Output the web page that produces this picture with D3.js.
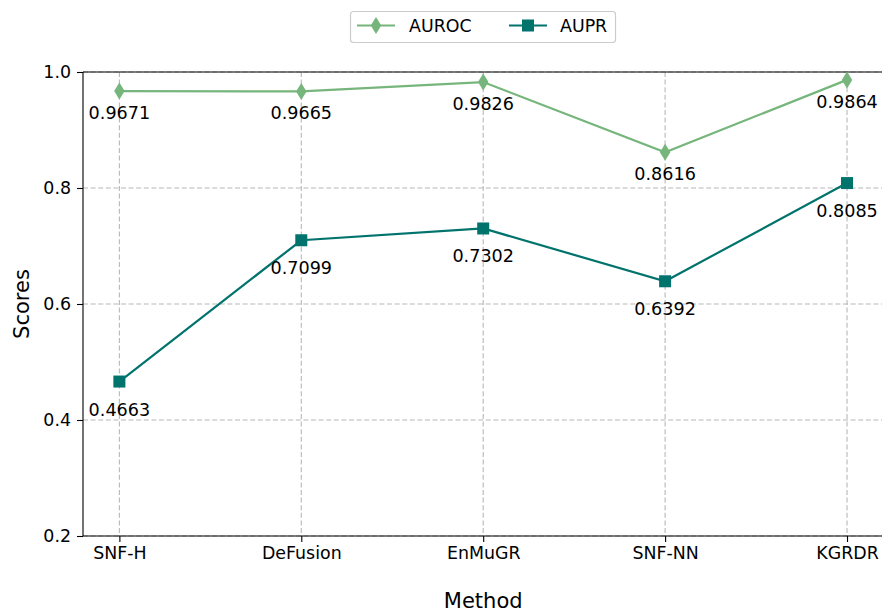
<!DOCTYPE html>
<html>
<head>
<meta charset="utf-8">
<script src="https://cdn.jsdelivr.net/npm/d3@7"></script>
<style>
  html, body { margin: 0; padding: 0; background: #ffffff; }
  svg { display: block; font-family: "DejaVu Sans", sans-serif; }
</style>
</head>
<body>
<svg id="chart" width="882" height="613"></svg>
<script>
// Methods compared and their scores
const methods = ["SNF-H", "DeFusion", "EnMuGR", "SNF-NN", "KGRDR"];
const auroc = [0.9671, 0.9665, 0.9826, 0.8616, 0.9864];
const aupr = [0.4663, 0.7099, 0.7302, 0.6392, 0.8085];
const yTicks = [0.2, 0.4, 0.6, 0.8, 1.0];
const seriesNames = ["AUROC", "AUPR"];
const seriesColors = ["#76b57b", "#00736d"];

const svg = d3.select("#chart");
const plotL = 83, plotR = 883.4, plotT = 72, plotB = 536;

const x = d3.scaleLinear().domain([-0.2, methods.length - 1 + 0.2]).range([plotL, plotR]);
const y = d3.scaleLinear().domain([0.2, 1.0]).range([plotB, plotT]);

// grid
const grid = svg.append("g").attr("stroke", "#b8b8b8").attr("stroke-width", 1.1)
  .attr("stroke-dasharray", "5,2.6");
methods.forEach((m, i) => {
  grid.append("line").attr("x1", x(i)).attr("x2", x(i)).attr("y1", plotT).attr("y2", plotB);
});
yTicks.forEach(t => {
  grid.append("line").attr("x1", plotL).attr("x2", plotR).attr("y1", y(t)).attr("y2", y(t));
});

// axes
const xAxis = d3.axisBottom(x).tickValues(d3.range(methods.length))
  .tickFormat(i => methods[i]).tickSize(6).tickPadding(5);
const yAxis = d3.axisLeft(y).tickValues(yTicks).tickFormat(d3.format(".1f"))
  .tickSize(6).tickPadding(6);

const gx = svg.append("g").attr("transform", `translate(0,${plotB})`).call(xAxis);
const gy = svg.append("g").attr("transform", `translate(${plotL},0)`).call(yAxis);
[gx, gy].forEach(g => {
  g.select(".domain").remove();
  g.selectAll("line").attr("stroke", "#000").attr("stroke-width", 1.1);
  g.selectAll("text").attr("font-size", 17.4).attr("fill", "#000")
    .attr("font-family", "DejaVu Sans, sans-serif");
});

// spines
const spines = svg.append("g").attr("stroke", "#000").attr("stroke-width", 1.1).attr("fill", "none");
spines.append("line").attr("x1", plotL).attr("x2", plotL).attr("y1", plotT).attr("y2", plotB);
spines.append("line").attr("x1", plotL).attr("x2", plotR).attr("y1", plotT).attr("y2", plotT);
spines.append("line").attr("x1", plotL).attr("x2", plotR).attr("y1", plotB).attr("y2", plotB);
spines.append("line").attr("x1", plotR).attr("x2", plotR).attr("y1", plotT).attr("y2", plotB);

// axis titles
svg.append("text").attr("x", (plotL + plotR) / 2).attr("y", 608).attr("text-anchor", "middle")
  .attr("font-size", 21).text("Method");
svg.append("text").attr("transform", `translate(28.5,${(plotT + plotB) / 2}) rotate(-90)`)
  .attr("text-anchor", "middle").attr("font-size", 21).text("Scores");

const diamond = (cx, cy, w, h) => `M${cx},${cy - h / 2}L${cx + w / 2},${cy}L${cx},${cy + h / 2}L${cx - w / 2},${cy}Z`;

// each series: connecting line, markers, and value labels under the markers
function drawSeries(vals, color, marker, labelOffset) {
  const line = d3.line().x((d, i) => x(i)).y(d => y(d));
  svg.append("path").datum(vals).attr("d", line).attr("fill", "none")
    .attr("stroke", color).attr("stroke-width", 2.2);
  const g = svg.append("g");
  vals.forEach((v, i) => {
    if (marker === "d") {
      g.append("path").attr("d", diamond(x(i), y(v), 10.5, 17)).attr("fill", color);
    } else {
      g.append("rect").attr("x", x(i) - 6).attr("y", y(v) - 6).attr("width", 12).attr("height", 12)
        .attr("fill", color);
    }
    g.append("text").attr("x", x(i)).attr("y", y(v) + labelOffset).attr("text-anchor", "middle")
      .attr("font-size", 17.6).attr("fill", "#000").text(v.toFixed(4));
  });
}
drawSeries(auroc, seriesColors[0], "d", 28);
drawSeries(aupr, seriesColors[1], "s", 34);

// legend
const lg = svg.append("g");
lg.append("rect").attr("x", 350.5).attr("y", 11.5).attr("width", 265).attr("height", 31)
  .attr("rx", 3).attr("fill", "#fff").attr("stroke", "#cccccc").attr("stroke-width", 1.2);
const legendItems = [
  { name: seriesNames[0], color: seriesColors[0], marker: "d", x0: 357, tx: 409 },
  { name: seriesNames[1], color: seriesColors[1], marker: "s", x0: 509, tx: 560 }
];
legendItems.forEach(it => {
  const cy = 25.5;
  lg.append("line").attr("x1", it.x0).attr("x2", it.x0 + 38).attr("y1", cy).attr("y2", cy)
    .attr("stroke", it.color).attr("stroke-width", 2.2);
  if (it.marker === "d") {
    lg.append("path").attr("d", diamond(it.x0 + 19, cy, 10.5, 17)).attr("fill", it.color);
  } else {
    lg.append("rect").attr("x", it.x0 + 13).attr("y", cy - 6).attr("width", 12).attr("height", 12)
      .attr("fill", it.color);
  }
  lg.append("text").attr("x", it.tx).attr("y", cy + 6).attr("font-size", 17.4).text(it.name);
});
</script>
</body>
</html>
